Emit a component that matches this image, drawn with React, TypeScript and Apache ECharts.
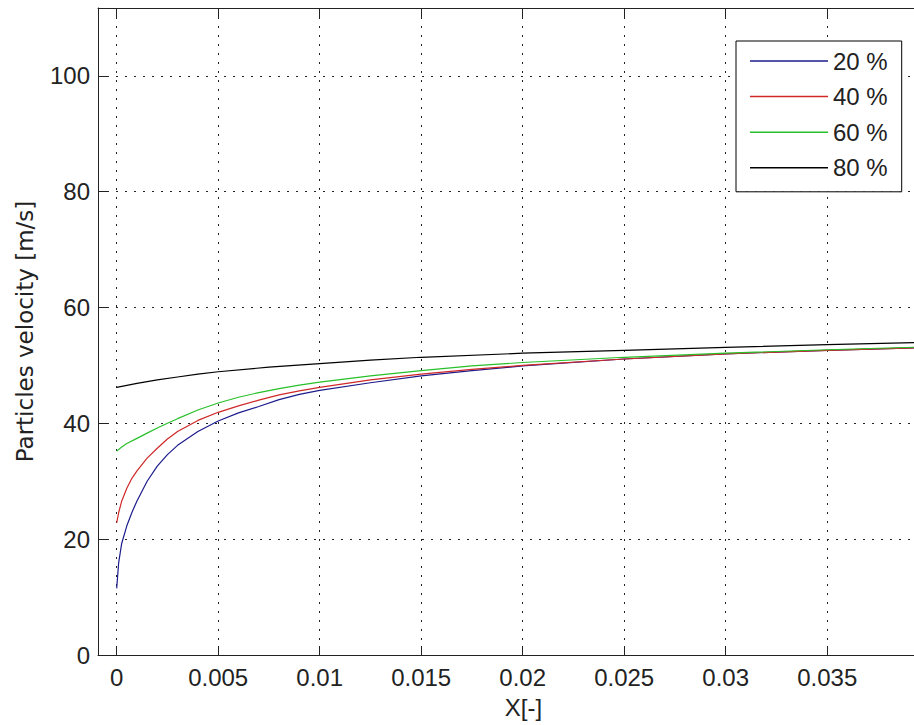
import React, { useEffect, useRef } from "react";
import * as echarts from "echarts";

// Tick labels
const xTicks = [0, 0.005, 0.01, 0.015, 0.02, 0.025, 0.03, 0.035];
const yTicks = [0, 20, 40, 60, 80, 100];

// Series: 20 %
const x20 = [0, 0.0001, 0.00025, 0.0005, 0.00075, 0.001, 0.0015, 0.002, 0.0025, 0.003, 0.004, 0.005, 0.006, 0.007, 0.008, 0.009, 0.01, 0.0125, 0.015, 0.0175, 0.02, 0.025, 0.03, 0.035, 0.04];
const y20 = [11.5, 16.0, 19.3, 22.3, 24.6, 26.6, 30.0, 32.6, 34.6, 36.2, 38.6, 40.4, 41.8, 42.9, 44.1, 45.0, 45.7, 47.0, 48.2, 49.1, 49.9, 51.1, 52.0, 52.6, 53.1];
// Series: 40 %
const x40 = [0, 0.0001, 0.00025, 0.0005, 0.00075, 0.001, 0.0015, 0.002, 0.0025, 0.003, 0.004, 0.005, 0.006, 0.007, 0.008, 0.009, 0.01, 0.0125, 0.015, 0.0175, 0.02, 0.025, 0.03, 0.035, 0.04];
const y40 = [22.8, 24.6, 26.6, 28.8, 30.5, 31.8, 34.0, 35.7, 37.3, 38.6, 40.5, 41.9, 43.0, 44.0, 44.9, 45.6, 46.2, 47.5, 48.5, 49.3, 50.0, 51.1, 52.0, 52.6, 53.1];
// Series: 60 %
const x60 = [0, 0.00025, 0.0005, 0.001, 0.0015, 0.002, 0.0025, 0.003, 0.004, 0.005, 0.006, 0.007, 0.008, 0.009, 0.01, 0.0125, 0.015, 0.0175, 0.02, 0.025, 0.03, 0.035, 0.04];
const y60 = [35.2, 35.9, 36.5, 37.4, 38.3, 39.2, 40.0, 40.8, 42.3, 43.5, 44.5, 45.3, 46.0, 46.6, 47.1, 48.2, 49.1, 49.9, 50.5, 51.4, 52.1, 52.7, 53.2];
// Series: 80 %
const x80 = [0, 0.001, 0.002, 0.003, 0.004, 0.005, 0.0075, 0.01, 0.0125, 0.015, 0.02, 0.025, 0.03, 0.035, 0.04];
const y80 = [46.2, 46.9, 47.5, 48.0, 48.5, 48.9, 49.7, 50.3, 50.9, 51.4, 52.1, 52.6, 53.1, 53.6, 54.0];

const seriesNames = ["20 %", "40 %", "60 %", "80 %"];
const seriesColors = ["#1c1c8c", "#d02828", "#28c028", "#000000"];

const pairs = (xs: number[], ys: number[]) => xs.map((x, i) => [x, ys[i]]);

const FONT = "'Liberation Sans', Arial, sans-serif";
const YFONT = "'DejaVu Sans', Verdana, sans-serif";

export default function App() {
  const ref = useRef<HTMLDivElement>(null);
  useEffect(() => {
    if (!ref.current) return;
    const chart = echarts.init(ref.current, undefined, { renderer: "svg" });
    const dataSets = [pairs(x20, y20), pairs(x40, y40), pairs(x60, y60), pairs(x80, y80)];
    const gridLine = { show: true, lineStyle: { color: "#222", width: 1, type: [2, 7] as any } };
    const xMin = -0.00092;
    const xMax = 0.041;
    chart.setOption({
      animation: false,
      backgroundColor: "#ffffff",
      textStyle: { fontFamily: FONT },
      grid: { left: 98, top: 8, width: 851, height: 647, containLabel: false },
      legend: {
        orient: "vertical",
        left: 736,
        top: 41,
        padding: [8, 14, 12, 14],
        itemGap: 11.6,
        itemWidth: 78,
        itemHeight: 1.5,
        icon: "rect",
        borderColor: "#000",
        borderWidth: 1,
        backgroundColor: "#fff",
        textStyle: { fontFamily: FONT, fontSize: 24, lineHeight: 24, color: "#222" },
        data: seriesNames,
      },
      xAxis: [
        {
          type: "value",
          position: "bottom",
          min: xMin,
          max: xMax,
          name: "X[-]",
          nameLocation: "middle",
          nameGap: 40,
          nameTextStyle: { fontFamily: FONT, fontSize: 24, color: "#222" },
          axisLine: { show: true, onZero: false, lineStyle: { color: "#222", width: 1 } },
          axisTick: { show: true, inside: true, length: 9, customValues: xTicks, lineStyle: { color: "#222" } },
          axisLabel: {
            show: true,
            customValues: xTicks,
            margin: 10,
            fontFamily: FONT,
            fontSize: 24,
            color: "#222",
            formatter: (v: number) => String(+Number(v).toFixed(4)),
          },
          splitLine: gridLine,
        },
        {
          type: "value",
          position: "top",
          min: xMin,
          max: xMax,
          axisLine: { show: true, onZero: false, lineStyle: { color: "#222", width: 1 } },
          axisTick: { show: true, inside: true, length: 9, customValues: xTicks, lineStyle: { color: "#222" } },
          axisLabel: { show: false },
          splitLine: { show: false },
        },
      ],
      yAxis: [
        {
          type: "value",
          min: 0,
          max: 111.7,
          name: "Particles velocity [m/s]",
          nameLocation: "middle",
          nameGap: 62,
          nameTextStyle: { fontFamily: YFONT, fontSize: 23, color: "#222" },
          axisLine: { show: true, onZero: false, lineStyle: { color: "#222", width: 1 } },
          axisTick: { show: true, inside: true, length: 9, customValues: yTicks, lineStyle: { color: "#222" } },
          axisLabel: {
            show: true,
            customValues: yTicks,
            margin: 8,
            fontFamily: FONT,
            fontSize: 24,
            color: "#222",
          },
          splitLine: gridLine,
        },
      ],
      series: seriesNames.map((name, i) => ({
        name,
        type: "line",
        xAxisIndex: 0,
        yAxisIndex: 0,
        data: dataSets[i],
        showSymbol: false,
        symbol: "none",
        smooth: false,
        color: seriesColors[i],
        lineStyle: { color: seriesColors[i], width: 1.2 },
      })),
    });
    return () => chart.dispose();
  }, []);
  return (
    <div style={{ position: "absolute", left: 0, top: 0, width: 914, height: 725, overflow: "hidden", background: "#fff" }}>
      <div ref={ref} style={{ position: "absolute", left: 0, top: 0, width: 960, height: 725 }} />
    </div>
  );
}
